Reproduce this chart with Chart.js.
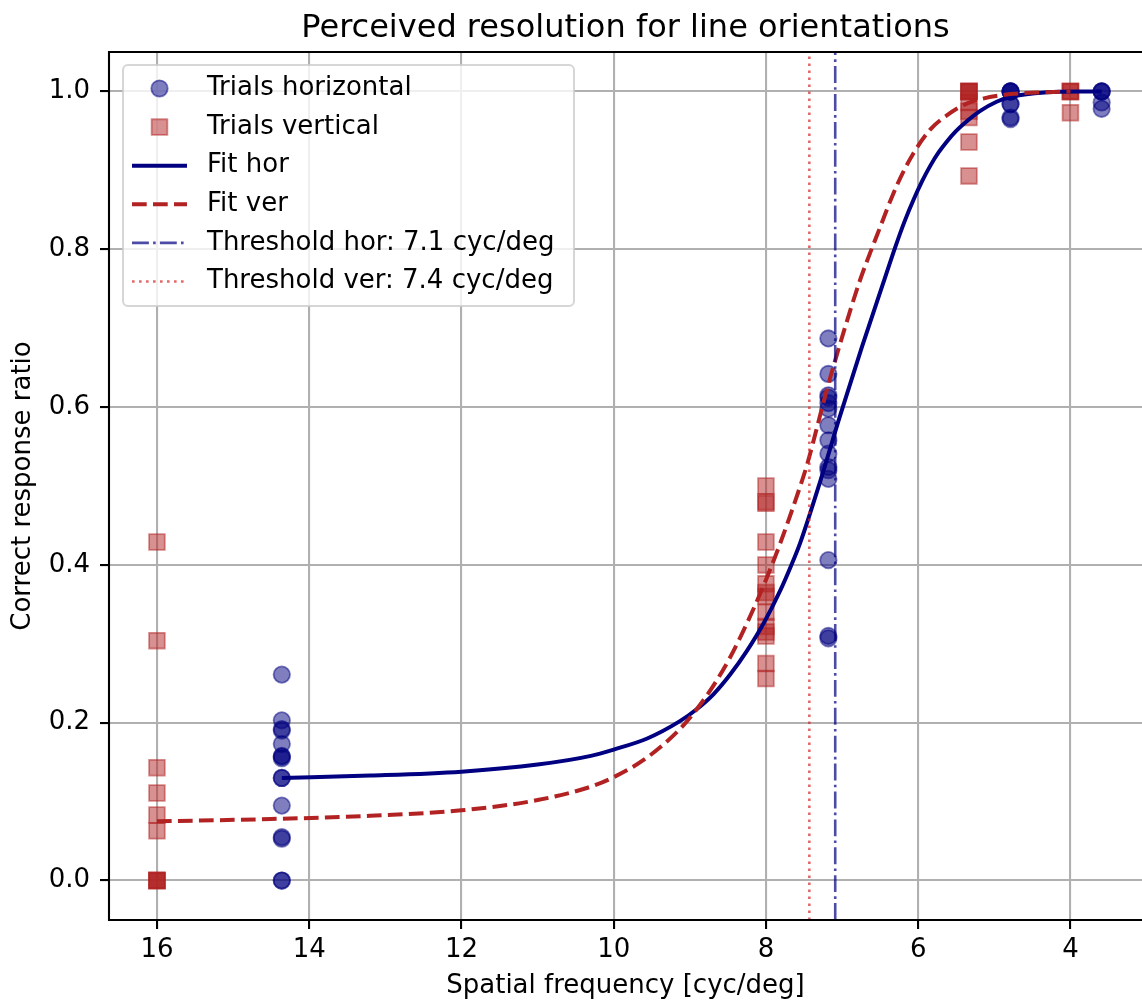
<!DOCTYPE html>
<html>
<head>
<meta charset="utf-8">
<title>Perceived resolution for line orientations</title>
<script src="https://cdn.jsdelivr.net/npm/chart.js@4.4.1/dist/chart.umd.min.js"></script>
<style>
  html, body { margin: 0; padding: 0; background: #fff; }
  canvas { display: block; }
</style>
</head>
<body>
<canvas id="resolution" width="1142" height="1003"></canvas>
<script>
// spatial frequencies tested for each orientation [cyc/deg]
const freqHor = [14.36, 7.18, 4.787, 3.59];
const freqVer = [16, 8, 5.333, 4];

// correct response ratio of every trial, one list per frequency
const trialsHor = [
  [0.261, 0.203, 0.192, 0.190, 0.173, 0.158, 0.157, 0.155, 0.130, 0.130, 0.095, 0.055, 0.053, 0, 0],
  [0.687, 0.642, 0.615, 0.612, 0.605, 0.598, 0.577, 0.558, 0.541, 0.524, 0.520, 0.509, 0.406, 0.310, 0.307],
  [1, 1, 1, 1, 0.984, 0.984, 0.967, 0.965],
  [1, 1, 1, 0.986, 0.978]
];
const trialsVer = [
  [0.429, 0.304, 0.143, 0.111, 0.083, 0.063, 0, 0, 0, 0],
  [0.500, 0.480, 0.478, 0.429, 0.400, 0.376, 0.365, 0.360, 0.340, 0.322, 0.315, 0.310, 0.275, 0.256],
  [1, 1, 1, 1, 0.986, 0.975, 0.967, 0.936, 0.893],
  [1, 1, 1, 0.973]
];

// fitted psychometric curves
const fitHorFreq = [14.36, 13.2, 12.0, 11.0, 10.3, 10.0, 9.56, 9.13, 8.91, 8.69, 8.47, 8.25, 8.03, 7.81, 7.67, 7.55, 7.29, 7.03, 6.74, 6.46, 6.30, 6.18, 6.06, 5.95, 5.84, 5.73, 5.62, 5.51, 5.40, 5.19, 4.97, 4.75, 4.31, 3.87, 3.59];
const fitHorRatio = [0.130, 0.133, 0.138, 0.147, 0.158, 0.166, 0.180, 0.202, 0.217, 0.236, 0.261, 0.291, 0.326, 0.368, 0.399, 0.428, 0.505, 0.588, 0.676, 0.757, 0.803, 0.835, 0.863, 0.886, 0.906, 0.923, 0.937, 0.949, 0.959, 0.975, 0.987, 0.994, 0.999, 1.0, 1.0];
const fitVerFreq = [16, 14.5, 13.2, 12.0, 11.0, 10.3, 10.0, 9.56, 9.13, 8.91, 8.69, 8.47, 8.25, 8.03, 7.81, 7.57, 7.46, 7.20, 6.98, 6.76, 6.54, 6.28, 6.06, 5.84, 5.62, 5.40, 5.19, 4.75, 4.31, 4.0];
const fitVerRatio = [0.075, 0.078, 0.082, 0.089, 0.102, 0.119, 0.131, 0.156, 0.192, 0.217, 0.247, 0.283, 0.326, 0.374, 0.428, 0.494, 0.527, 0.622, 0.695, 0.762, 0.818, 0.881, 0.922, 0.952, 0.970, 0.983, 0.990, 0.997, 0.999, 1.0];

// thresholds [cyc/deg]
const thresholdHor = 7.09;
const thresholdVer = 7.43;

// axes
const xTicks = [16, 14, 12, 10, 8, 6, 4];
const yTicks = [0, 0.2, 0.4, 0.6, 0.8, 1.0];
const xMin = 3.06, xMax = 16.63;
const yMin = -0.05, yMax = 1.05;

const NAVY = 'rgb(0,0,128)';
const NAVY_A = 'rgba(0,0,128,0.5)';
const FIRE = 'rgb(178,34,34)';
const FIRE_A = 'rgba(178,34,34,0.5)';

function toPoints(freqs, groups) {
  const pts = [];
  freqs.forEach((f, i) => groups[i].forEach(r => pts.push({x: f, y: r})));
  return pts;
}
function zipPoints(xs, ys) {
  return xs.map((x, i) => ({x: x, y: ys[i]}));
}

Chart.defaults.font.family = "'DejaVu Sans', sans-serif";
Chart.defaults.color = '#000';

// top/left/bottom spines drawn over the data, like matplotlib
const spines = {
  id: 'spines',
  afterDatasetsDraw(chart) {
    const {ctx, chartArea: a} = chart;
    ctx.save();
    ctx.strokeStyle = '#000';
    ctx.lineWidth = 2.1;
    ctx.beginPath();
    ctx.moveTo(a.right + 2, a.top);
    ctx.lineTo(a.left, a.top);
    ctx.lineTo(a.left, a.bottom);
    ctx.lineTo(a.right + 2, a.bottom);
    ctx.stroke();
    ctx.restore();
  }
};

// legend box in the upper left corner of the axes
const boxLegend = {
  id: 'boxLegend',
  afterDraw(chart) {
    const ctx = chart.ctx;
    const bx = 123, by = 65, bw = 451, bh = 241, r = 5;
    ctx.save();
    ctx.beginPath();
    ctx.moveTo(bx + r, by);
    ctx.arcTo(bx + bw, by, bx + bw, by + bh, r);
    ctx.arcTo(bx + bw, by + bh, bx, by + bh, r);
    ctx.arcTo(bx, by + bh, bx, by, r);
    ctx.arcTo(bx, by, bx + bw, by, r);
    ctx.closePath();
    ctx.fillStyle = 'rgba(255,255,255,0.8)';
    ctx.fill();
    ctx.strokeStyle = 'rgba(204,204,204,0.8)';
    ctx.lineWidth = 2;
    ctx.stroke();

    chart.data.datasets.forEach((ds, i) => {
      const cy = 88.5 + i * 38.6;
      const cx = 159.5;
      ctx.save();
      if (ds.showLine) {
        ctx.strokeStyle = ds.borderColor;
        ctx.lineWidth = ds.borderWidth;
        ctx.setLineDash(ds.borderDash || []);
        ctx.beginPath();
        ctx.moveTo(132, cy);
        ctx.lineTo(187, cy);
        ctx.stroke();
      } else {
        ctx.fillStyle = ds.backgroundColor;
        ctx.strokeStyle = ds.borderColor;
        ctx.lineWidth = ds.borderWidth;
        ctx.beginPath();
        if (ds.pointStyle === 'rect') {
          const s = ds.pointRadius * Math.SQRT1_2;
          ctx.rect(cx - s, cy - s, 2 * s, 2 * s);
        } else {
          ctx.arc(cx, cy, ds.pointRadius, 0, 2 * Math.PI);
        }
        ctx.fill();
        ctx.stroke();
      }
      ctx.restore();
      ctx.fillStyle = '#000';
      ctx.font = "26px 'DejaVu Sans'";
      ctx.textBaseline = 'middle';
      ctx.textAlign = 'left';
      ctx.fillText(ds.label, 207, cy);
    });
    ctx.restore();
  }
};

new Chart(document.getElementById('resolution'), {
  type: 'scatter',
  data: {
    datasets: [
      {
        label: 'Trials horizontal',
        data: toPoints(freqHor, trialsHor),
        pointStyle: 'circle',
        pointRadius: 8.2,
        backgroundColor: NAVY_A,
        borderColor: NAVY_A,
        borderWidth: 1.8,
        order: 6
      },
      {
        label: 'Trials vertical',
        data: toPoints(freqVer, trialsVer),
        pointStyle: 'rect',
        pointRadius: 11.1,
        backgroundColor: FIRE_A,
        borderColor: FIRE_A,
        borderWidth: 1.8,
        order: 5
      },
      {
        label: 'Fit hor',
        data: zipPoints(fitHorFreq, fitHorRatio),
        showLine: true,
        pointRadius: 0,
        borderColor: NAVY,
        borderWidth: 4,
        cubicInterpolationMode: 'monotone',
        order: 4
      },
      {
        label: 'Fit ver',
        data: zipPoints(fitVerFreq, fitVerRatio),
        showLine: true,
        pointRadius: 0,
        borderColor: FIRE,
        borderWidth: 4,
        borderDash: [14.7, 6.3],
        cubicInterpolationMode: 'monotone',
        order: 3
      },
      {
        label: 'Threshold hor: 7.1 cyc/deg',
        data: [{x: thresholdHor, y: yMin}, {x: thresholdHor, y: yMax}],
        showLine: true,
        pointRadius: 0,
        borderColor: 'rgba(0,0,128,0.7)',
        borderWidth: 2.6,
        borderDash: [16.9, 4.2, 2.6, 4.2],
        order: 2
      },
      {
        label: 'Threshold ver: 7.4 cyc/deg',
        data: [{x: thresholdVer, y: yMin}, {x: thresholdVer, y: yMax}],
        showLine: true,
        pointRadius: 0,
        borderColor: 'rgba(214,39,40,0.7)',
        borderWidth: 2.6,
        borderDash: [2.6, 4.4],
        order: 1
      }
    ]
  },
  options: {
    responsive: false,
    devicePixelRatio: 1,
    animation: false,
    events: [],
    layout: { padding: 0, autoPadding: false },
    plugins: {
      legend: { display: false },
      tooltip: { enabled: false },
      title: {
        display: true,
        text: 'Perceived resolution for line orientations',
        fullSize: false,
        font: { size: 32, weight: 'normal' },
        color: '#000',
        padding: { top: 9, bottom: 4.6 }
      }
    },
    scales: {
      x: {
        type: 'linear',
        reverse: true,
        min: xMin,
        max: xMax,
        afterBuildTicks: s => { s.ticks = xTicks.map(v => ({value: v})); },
        afterFit: s => { s.height = 83; s.paddingLeft = 0; s.paddingRight = 0; },
        ticks: {
          font: { size: 26 },
          color: '#000',
          padding: 6,
          maxRotation: 0,
          autoSkip: false,
          callback: v => String(v)
        },
        grid: {
          color: '#b0b0b0',
          lineWidth: 2.1,
          tickColor: '#000',
          tickWidth: 2.1,
          tickLength: 9
        },
        border: { display: false },
        title: {
          display: true,
          text: 'Spatial frequency [cyc/deg]',
          font: { size: 26 },
          color: '#000',
          padding: { top: 0, bottom: 1 }
        }
      },
      y: {
        type: 'linear',
        min: yMin,
        max: yMax,
        afterBuildTicks: s => { s.ticks = yTicks.map(v => ({value: v})); },
        afterFit: s => { s.width = 109; },
        ticks: {
          font: { size: 26 },
          color: '#000',
          padding: 10,
          autoSkip: false,
          callback: v => v.toFixed(1)
        },
        grid: {
          color: '#b0b0b0',
          lineWidth: 2.1,
          tickColor: '#000',
          tickWidth: 2.1,
          tickLength: 9
        },
        border: { display: false },
        title: {
          display: true,
          text: 'Correct response ratio',
          font: { size: 26 },
          color: '#000',
          padding: { top: 8, bottom: 0 }
        }
      }
    }
  },
  plugins: [spines, boxLegend]
});
</script>
</body>
</html>
